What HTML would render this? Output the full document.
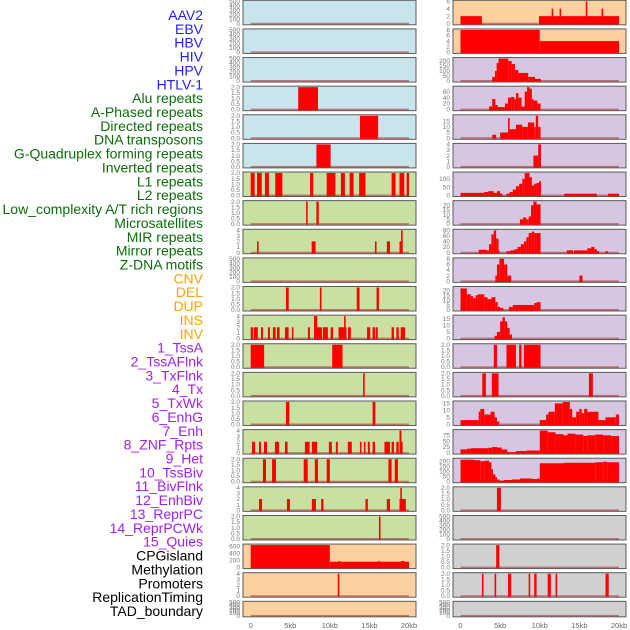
<!DOCTYPE html>
<html><head><meta charset="utf-8"><style>
html,body{margin:0;padding:0;background:#fff;width:630px;height:630px;overflow:hidden}
svg{display:block;font-family:"Liberation Sans",sans-serif}
</style></head><body>
<svg id="chart" width="630" height="630"></svg>
<script>
const labels = ["AAV2","EBV","HBV","HIV","HPV","HTLV-1","Alu repeats","A-Phased repeats","Directed repeats","DNA transposons","G-Quadruplex forming repeats","Inverted repeats","L1 repeats","L2 repeats","Low_complexity A/T rich regions","Microsatellites","MIR repeats","Mirror repeats","Z-DNA motifs","CNV","DEL","DUP","INS","INV","1_TssA","2_TssAFlnk","3_TxFlnk","4_Tx","5_TxWk","6_EnhG","7_Enh","8_ZNF_Rpts","9_Het","10_TssBiv","11_BivFlnk","12_EnhBiv","13_ReprPC","14_ReprPCWk","15_Quies","CPGisland","Methylation","Promoters","ReplicationTiming","TAD_boundary"];
const labelGroups = [6,13,5,15,5];
const groupColors = ["#1f1fff","#0a6e0a","#ffa500","#a020f0","#000000"];
const xTickLabels = ["0","5kb","10kb","15kb","20kb"];
const xTickValues = [0,5,10,15,20];
const T500=[0,100,200,300,400,500], T2=[0,0.5,1,1.5,2], T4=[0,1,2,3,4];
const leftBg = ["#c8e4ec","#c8e4ec","#c8e4ec","#c8e4ec","#c8e4ec","#c8e4ec","#c8e0a2","#c8e0a2","#c8e0a2","#c8e0a2","#c8e0a2","#c8e0a2","#c8e0a2","#c8e0a2","#c8e0a2","#c8e0a2","#c8e0a2","#c8e0a2","#c8e0a2","#fdd19f","#fdd19f","#fdd19f"];
const rightBg = ["#fdd19f","#fdd19f","#d6c6e2","#d6c6e2","#d6c6e2","#d6c6e2","#d6c6e2","#d6c6e2","#d6c6e2","#d6c6e2","#d6c6e2","#d6c6e2","#d6c6e2","#d6c6e2","#d6c6e2","#d6c6e2","#d6c6e2","#d0d0d0","#d0d0d0","#d0d0d0","#d0d0d0","#d0d0d0"];
const leftTicks = [T500,T500,T500,T2,T2,T2,T2,T2,T4,T500,T2,T4,T2,T2,T2,T4,T2,T4,T2,[0,200,400,600],T4,T500];
const leftMax = [500,500,500,2,2,2,2,2,4,500,2,4,2,2,2,4,2,4,2,630,4,500];
const rightTicks = [[0,2,4,6],[0,2,4,6,8],[0,50,100,150,200],[0,20,40,60],[0,5,10,15],T4,[0,50,100],[0,5,10,15,20],[0,20,40,60,80],[0,2,4,6,8],[0,5,10,15,20],[0,5,10,15],T2,T2,[0,5,10,15],[0,25,50,75],[0,50,100,150,200],T2,T500,T2,T2,T500];
const rightMax = [6,8,225,75,20,4,135,24,80,8,23,17,2,2,16,95,220,2,500,2,2,500];
const leftBars = [
 [],[],[],
 [[6.0,8.5,2]],
 [[13.8,16.1,2]],
 [[8.3,10.1,2]],
 [[0,0.5,2],[0.8,1.4,2],[1.8,2.3,2],[3.1,4.0,2],[7.5,7.9,2],[9.6,10.7,2],[11.4,11.9,2],[12.5,13.0,2],[13.7,14.5,2],[17.8,18.3,2],[18.8,19.4,2],[19.7,20,2]],
 [[7.0,7.2,2],[8.3,8.6,2]],
 [[0.8,1.0,2],[7.7,8.2,2],[15.7,15.9,2],[17.2,17.6,2],[18.8,19.2,2],[19.0,19.2,4]],
 [],
 [[4.45,4.8,2],[8.74,8.95,2],[13.4,13.75,2],[15.9,16.2,2]],
 [[0,0.3,2],[0.4,0.9,2],[1.3,1.55,2],[2.18,2.43,2],[2.81,3.15,2],[3.32,3.65,2],[4.33,4.79,2],[5.2,5.4,2],[7.23,7.48,2],[8.36,9.0,2],[9.12,9.75,2],[10.1,10.4,2],[11.1,12.1,2],[12.3,12.65,2],[14.7,15.1,2],[15.4,15.7,2],[15.8,16.05,2],[17.8,18.1,2],[18.4,18.7,2],[18.95,19.5,2],[8.0,8.4,4],[11.8,12.0,4]],
 [[0,1.7,2],[10.3,11.6,2]],
 [[14.2,14.4,2]],
 [[4.45,4.88,2],[15.4,15.75,2]],
 [[0.17,0.55,2],[1.05,1.3,2],[1.68,2.06,2],[3.06,3.57,2],[4.33,4.66,2],[6.85,7.44,2],[7.73,8.4,2],[9.88,10.25,2],[10.76,11.0,2],[12.27,12.77,2],[13.8,14.0,2],[14.3,14.5,2],[14.8,15.05,2],[15.4,15.7,2],[16.9,17.6,2],[17.8,18.1,2],[18.4,18.7,2],[18.8,19.2,2],[18.8,19.05,4]],
 [[1.55,1.93,2],[2.7,3.2,2],[6.7,7.2,2],[8.1,8.5,2],[9.6,10.0,2],[17.4,17.8,2],[18.2,18.6,2]],
 [[1.05,1.43,2],[4.58,4.96,2],[7.73,8.24,2],[8.9,9.2,2],[14.5,14.8,2],[17.2,17.6,2],[18.8,19.6,2],[18.9,19.1,4]],
 [[16.2,16.4,2]],
 [[0,10,630],[10,20,160],[11.1,11.3,180],[16.1,16.3,180],[19.0,19.4,180]],
 [[11.0,11.2,4]],
 []
];
const rightBars = [
 [[0,2.7,2],[9.9,20,2],[11.5,11.7,4],[12.5,12.7,4],[15.8,16.0,6],[17.8,18.0,4]],
 [[0,10,8],[10,20,4]],
 [[4.0,4.35,40],[4.35,4.56,100],[4.56,4.8,180],[4.8,6.03,225],[6.03,6.45,200],[6.45,6.87,170],[6.87,7.3,110],[7.3,8.55,80],[8.55,9.4,40],[9.4,10.15,20]],
 [[3.6,4.0,10],[4.0,4.4,35],[4.4,4.7,15],[4.7,5.6,8],[5.6,6.0,20],[6.0,6.4,40],[6.4,6.8,42],[6.8,7.0,35],[7.0,7.3,55],[7.3,7.7,40],[7.7,8.1,10],[8.1,8.4,60],[8.4,8.7,75],[8.7,9.0,70],[9.0,9.2,35],[9.2,9.7,30],[9.7,10.1,20]],
 [[4.0,4.5,3],[5.0,6.0,5],[6.0,6.2,18],[6.2,7.0,8],[7.0,7.8,12],[7.8,8.5,10],[8.5,9.3,14],[9.3,9.5,10],[9.5,9.8,20],[9.8,10.1,10]],
 [[9.2,9.8,2],[9.8,10.15,4]],
 [[0,3,15],[3,3.5,20],[3.5,4.2,25],[4.2,4.6,15],[4.6,5.0,25],[5.0,5.3,10],[5.8,6.2,10],[6.2,6.6,20],[6.6,7.0,35],[7.0,7.4,55],[7.4,7.8,70],[7.8,8.1,100],[8.1,8.7,135],[8.7,9.0,110],[9.0,9.3,60],[9.3,9.6,70],[9.6,9.9,75],[9.9,10.15,85],[13.1,17.2,10],[18.6,20,10]],
 [[7.5,7.9,5],[7.9,8.3,7],[8.3,8.6,5],[8.6,8.9,8],[8.9,9.2,20],[9.2,9.6,24],[9.6,10.1,21]],
 [[2.3,3.3,10],[3.3,3.6,8],[3.6,3.9,30],[3.9,4.2,65],[4.2,4.5,80],[4.5,4.8,50],[4.8,4.9,8],[5.8,6.3,5],[6.3,6.8,8],[6.8,7.2,12],[7.2,7.6,20],[7.6,8.0,30],[8.0,8.3,40],[8.3,8.6,55],[8.6,9.0,70],[9.0,9.3,75],[9.3,9.6,70],[9.6,10.1,70],[13.4,14.2,8],[14.3,16.0,8],[16.0,16.5,15],[16.5,16.9,20],[16.9,17.2,12],[17.2,17.5,5],[18.3,18.6,5]],
 [[4.4,4.6,2],[4.6,4.9,6],[4.9,5.5,8],[5.5,5.9,6],[5.9,6.4,2],[15.0,15.4,2]],
 [[0,0.8,22],[0.8,1.3,16],[1.3,1.6,14],[1.6,1.9,12],[1.9,2.2,15],[2.2,3.0,16],[3.0,3.4,13],[3.4,3.9,11],[3.9,4.4,13],[4.4,4.7,8],[4.7,5.0,3],[5.0,5.4,2],[6.1,6.6,3],[6.6,9.3,5],[9.3,9.6,7],[9.6,10.1,8]],
 [[4.3,4.6,2],[4.6,5.0,5],[5.0,5.3,13],[5.3,5.6,16],[5.6,5.9,13],[5.9,6.2,8],[6.2,6.5,3]],
 [[4.2,4.6,2],[5.8,7.0,2],[7.4,7.7,2],[8.0,10.1,2]],
 [[2.75,3.2,2],[3.95,4.8,2],[16.2,16.7,2]],
 [[0,2.3,3],[2.3,2.5,9],[2.5,3.0,11],[3.0,3.8,7],[3.8,4.3,9],[4.3,4.6,5],[4.6,4.9,2],[10,10.8,3],[10.8,11.1,7],[11.1,11.9,9],[11.9,12.9,15],[12.9,13.8,16],[13.8,14.1,11],[14.1,14.6,5],[14.6,15.0,9],[15.0,15.3,11],[15.3,15.6,8],[15.6,16.0,11],[16.0,17.4,9],[17.4,18.3,3],[18.3,19.6,5],[19.6,20,7]],
 [[0,0.8,15],[0.8,1.3,18],[1.3,3.5,20],[3.5,4.0,22],[4.0,4.6,25],[4.6,5.2,23],[5.2,5.9,15],[5.9,7.0,3],[7.0,8.3,8],[8.3,10,10],[10,11,95],[11,12,88],[12,13,80],[13,13.5,75],[13.5,14.5,82],[14.5,15.5,78],[15.5,16,72],[16,17,75],[17,18,78],[18,19,75],[19,20,72]],
 [[0,1.7,215],[1.7,2.5,210],[2.5,3.0,200],[3.0,3.6,205],[3.6,3.9,190],[3.9,4.1,120],[4.1,4.4,70],[4.4,4.6,45],[4.6,4.9,20],[4.9,5.5,10],[5.5,6.5,15],[6.5,7.5,20],[7.5,9,30],[9,9.7,25],[9.7,10,30],[10,13,180],[13,17,185],[17,18,190],[18,18.5,195],[18.5,20,190]],
 [[4.6,5.1,2]],
 [],
 [[4.5,4.9,2]],
 [[2.7,2.9,2],[4.3,4.5,2],[6.0,6.4,2],[8.6,8.8,2],[9.3,9.6,2],[11.0,11.4,2],[12.0,12.2,2],[18.3,18.7,2]],
 []
];

const NS="http://www.w3.org/2000/svg";
const svg=document.getElementById('chart');
function mk(tag,attrs,parent){const e=document.createElementNS(NS,tag);for(const k in attrs)e.setAttribute(k,attrs[k]);(parent||svg).appendChild(e);return e;}

let li=0;
labelGroups.forEach((n,g)=>{for(let j=0;j<n;j++){const t=mk('text',{x:203,y:20+li*13.86,'text-anchor':'end','font-size':'14',fill:groupColors[g]});


t.textContent=labels[li];li++;}});

const cols=[{x0:243,x1:416,d0:250.7,d1:409,bg:leftBg,ticks:leftTicks,max:leftMax,bars:leftBars,name:'left'},
            {x0:453,x1:626,d0:460.5,d1:619,bg:rightBg,ticks:rightTicks,max:rightMax,bars:rightBars,name:'right'}];
const pitch=28.62;
cols.forEach(c=>{
 const xs=kb=>c.d0+(c.d1-c.d0)*kb/20;
 for(let i=0;i<22;i++){
  const top=i*pitch+0.3, h=(i===21)?15.5:24.5, bot=top+h;
  const g=mk('g',{});
  
  
  mk('rect',{x:c.x0,y:top,width:c.x1-c.x0,height:h,fill:c.bg[i],stroke:'#5a5a5a','stroke-width':1},g);
  const y0=bot-1.2, yTop=top+1, mx=c.max[i];
  const ys=v=>y0-(y0-yTop)*v/mx;
  const tk=c.ticks[i], tmax=tk[tk.length-1];
  tk.forEach(v=>{const t=mk('text',{x:c.x0-3,y:ys(v)+2.2,'text-anchor':'end','font-size':'6.5',fill:'#777'},g);
   
   
   t.textContent=(tmax<=2)?v.toFixed(1):String(v);});
  mk('line',{x1:xs(0),x2:xs(20),y1:y0,y2:y0,stroke:'rgba(170,40,40,0.55)','stroke-width':1.6},g);
  c.bars[i].forEach(b=>{const r=mk('rect',{x:xs(b[0]),y:ys(b[2]),width:Math.max(1,xs(b[1])-xs(b[0])),height:y0-ys(b[2])+0.8,fill:'#ff0000'},g);
   
   });
 }
 xTickValues.forEach((v,k)=>{const t=mk('text',{x:xs(v),y:628,'text-anchor':'middle','font-size':'7.5',fill:'#666'});
  
  
  t.textContent=xTickLabels[k];});
});
</script>
</body></html>
